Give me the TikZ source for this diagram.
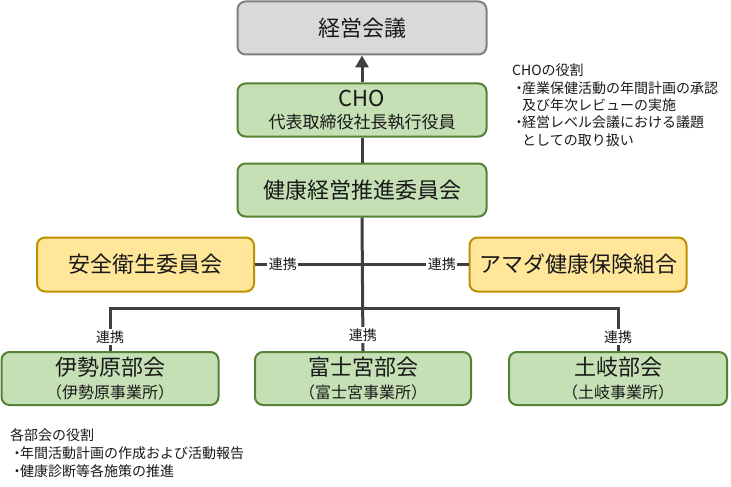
\documentclass[tikz,border=0pt]{standalone}
\usepackage{fontspec}
\setmainfont{Noto Sans CJK JP}
\usetikzlibrary{arrows.meta}
\definecolor{grayfill}{HTML}{D9D9D9}
\definecolor{grayline}{HTML}{808080}
\definecolor{greenfill}{HTML}{C5E0B4}
\definecolor{greenline}{HTML}{548235}
\definecolor{yellowfill}{HTML}{FFE699}
\definecolor{yellowline}{HTML}{BF9000}
\definecolor{linkgray}{HTML}{404040}

\begin{document}
\begin{tikzpicture}[x=1pt,y=-1pt,text=black!90,
  box/.style={rectangle,rounded corners=8pt,line width=2pt,minimum height=53pt,inner sep=0pt,align=center,font=\fontsize{22}{24}\selectfont},
  graybox/.style={box,draw=grayline,fill=grayfill,minimum width=249pt},
  greenbox/.style={box,draw=greenline,fill=greenfill},
  yellowbox/.style={box,draw=yellowline,fill=yellowfill,minimum width=217pt},
  link/.style={line width=3pt,draw=linkgray},
  renkei/.style={fill=white,inner sep=1.5pt,font=\fontsize{14}{16}\selectfont},
  note/.style={anchor=north west,align=left,inner sep=0pt}]
                      \useasboundingbox (0,0) rectangle (731,487);
                      \node (kaigi) at (362,28) [graybox] {経営会議};
                      \node (cho) at (362,110) [greenbox,minimum width=249pt,font=\fontsize{17}{22.5}\selectfont] {{\fontsize{22}{24}\selectfont CHO}\\代表取締役社長執行役員};
                      \node (suishin) at (362,190) [greenbox,minimum width=249pt] {健康経営推進委員会};
                      \node (anzen) at (145.5,264.5) [yellowbox,minimum height=54pt] {安全衛生委員会};
                      \node (amada) at (578,264.5) [yellowbox,minimum height=54pt] {アマダ健康保険組合};
                      \node (isehara) at (110,378.5) [greenbox,minimum width=217pt,font=\fontsize{16}{23}\selectfont] {{\fontsize{22}{24}\selectfont 伊勢原部会}\\（伊勢原事業所）};
                      \node (fuji) at (363,378.5) [greenbox,minimum width=216pt,font=\fontsize{16}{23}\selectfont] {{\fontsize{22}{24}\selectfont 富士宮部会}\\（富士宮事業所）};
                      \node (toki) at (618,378.5) [greenbox,minimum width=218pt,font=\fontsize{16}{23}\selectfont] {{\fontsize{22}{24}\selectfont 土岐部会}\\（土岐事業所）};
                      \coordinate (busL) at (110,308);
                      \coordinate (busR) at (618,308);
                      \draw[link,-{Triangle[width=13pt,length=12pt]}] (cho.north) -- (kaigi.south);
                      \draw[link] (suishin.north) -- (cho.south);
                      \draw[link] (suishin.south) -- node[renkei,pos=0.88] {連携} (fuji.north);
                      \draw[link] (anzen.east) -- node[renkei,pos=0.13] {連携} node[renkei,pos=0.875] {連携} (amada.west);
                      \draw[link] (isehara.north) -- node[renkei,pos=0.32] {連携} (busL) -- (busR) -- node[renkei,pos=0.68] {連携} (toki.north);
                      % role notes, bullet kerned tight as in the original
                      \node (choyaku) at (512,64) [note,font=\fontsize{14}{17.3}\selectfont] {CHOの役割\\・\kern-4pt産業保健活動の年間計画の承認\\\hspace*{10pt}及び年次レビューの実施\\・\kern-4pt経営レベル会議における議題\\\hspace*{10pt}としての取り扱い};
                      \node (bukai) at (10,428) [note,font=\fontsize{14}{18}\selectfont] {各部会の役割\\・\kern-4pt年間活動計画の作成および活動報告\\・\kern-4pt健康診断等各施策の推進};
                \end{tikzpicture}
\end{document}
